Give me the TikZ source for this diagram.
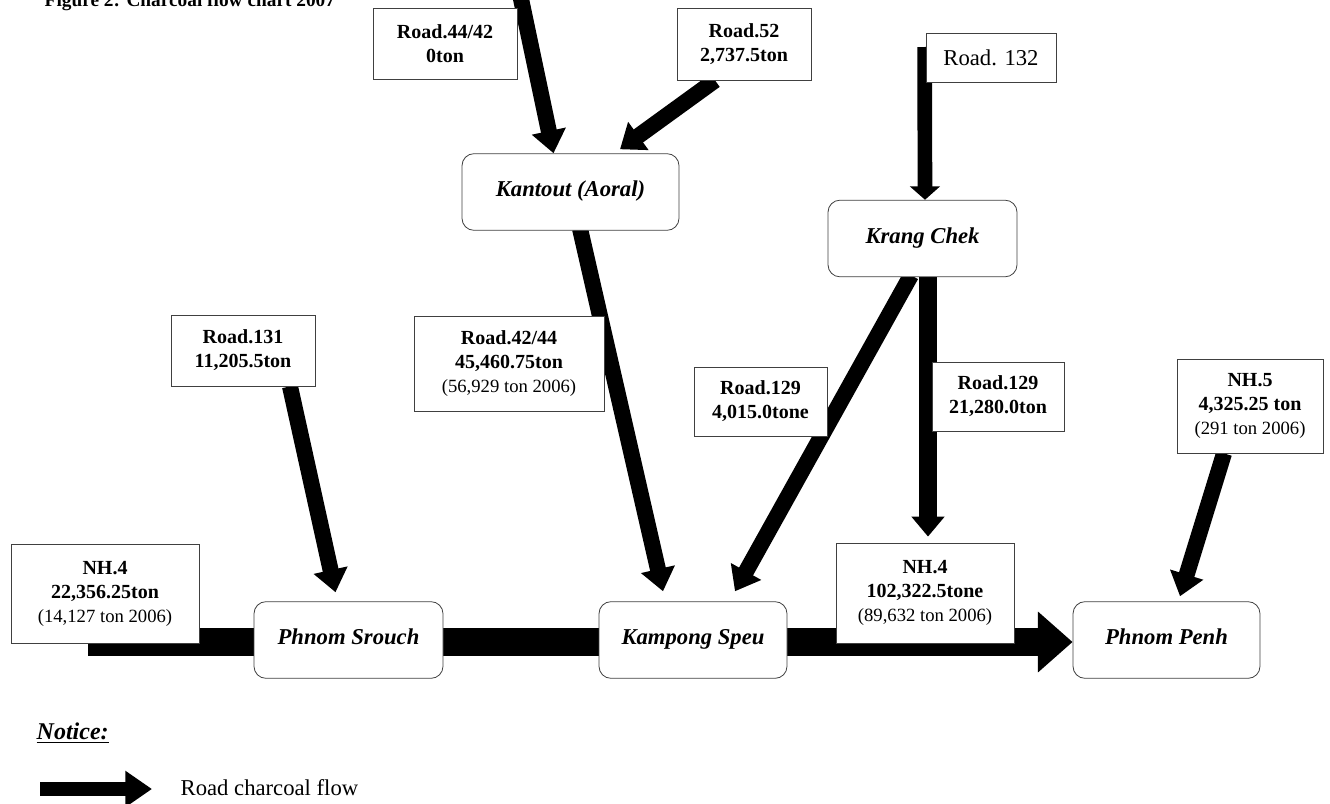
\documentclass[tikz,border=0pt]{standalone}
\usepackage{fontspec}
\setmainfont{Liberation Serif}
\usetikzlibrary{arrows.meta,calc}
\pgfdeclarelayer{back}
\pgfsetlayers{back,main}

\begin{document}
\begin{tikzpicture}[x=0.75pt, y=-0.75pt,
    road/.style={draw=black!75, line width=0.6pt, fill=white, inner sep=1pt, align=center,
      font=\fontsize{15}{18}\selectfont\bfseries},
    town/.style={road, rounded corners=9pt, text height=11pt, text depth=4pt,
      font=\fontsize{17}{20}\selectfont\bfseries\itshape},
    flow/.style={line width=12pt, -{Triangle[length=17pt,width=25pt]}},
    mainflow/.style={line width=21pt, -{Triangle[length=26pt,width=44pt]}}]

  \useasboundingbox (0,0) rectangle (1330,803);

  \node[anchor=base west, font=\fontsize{14.5}{16}\selectfont\bfseries] (title) at (40,7)
    {Figure 2: Charcoal flow chart 2007};

  % towns
  \foreach \n/\t/\x/\y/\w in {kantout/Kantout (Aoral)/570.5/192/162.75,
                              krang/Krang Chek/922.5/238.5/141.75,
                              srouch/Phnom Srouch/348.5/640/141.75,
                              speu/Kampong Speu/693/640/141,
                              penh/Phnom Penh/1166.5/640/140.25}
    \node[town, minimum width=\w pt, minimum height=57.5pt] (\n) at (\x,\y) {\t};

  % road labels
  \node[road, minimum width=108pt, minimum height=53.25pt] (r4442) at (445,43.5) {Road.44/42\\0ton};
  \node[road, minimum width=100.5pt, minimum height=54pt] (r52) at (744,44) {Road.52\\2,737.5ton};
  \node[road, minimum width=97.5pt, minimum height=36.75pt, font=\fontsize{17}{20}\selectfont]
    (r132) at (991,57.5) {Road. 132};
  \node[road, minimum width=108pt, minimum height=53.25pt] (r131) at (243,350.5) {Road.131\\11,205.5ton};
  \node[road, minimum width=142.5pt, minimum height=71.25pt] (r4244) at (509,363.5)
    {Road.42/44\\45,460.75ton\\{\mdseries\fontsize{14}{18}\selectfont (56,929 ton 2006)}};
  \node[road, minimum width=99.75pt, minimum height=51.75pt] (r129a) at (760.5,401.5) {Road.129\\4,015.0tone};
  \node[road, minimum width=99pt, minimum height=51.75pt] (r129b) at (998,396.5) {Road.129\\21,280.0ton};
  \node[road, minimum width=109.5pt, minimum height=70.5pt] (nh5) at (1250,406)
    {NH.5\\4,325.25 ton\\{\mdseries\fontsize{14}{18}\selectfont (291 ton 2006)}};
  \node[road, minimum width=141pt, minimum height=74.25pt] (nh4a) at (105,593.5)
    {NH.4\\22,356.25ton\\{\mdseries\fontsize{14}{18}\selectfont (14,127 ton 2006)}};
  \node[road, minimum width=133.5pt, minimum height=75pt] (nh4b) at (925,593)
    {NH.4\\102,322.5tone\\{\mdseries\fontsize{14}{18}\selectfont (89,632 ton 2006)}};

  \begin{pgfonlayer}{back}
    \coordinate (nhstart) at (88,642);
    \coordinate (topin) at (517,-20);
    \draw[mainflow] (nhstart) -- ($(penh.west)+(0,2)$);
    \draw[flow] (topin) -- ($(kantout.north)+(-17,0)$);
    \draw[flow] ($(r52.south)+(-29,0)$) -- ($(kantout.north)+(49.5,-4)$);
    \draw[flow, line width=11pt, -{Triangle[length=10pt,width=22pt]}]
      ($(r132.west)+(-1,-10.5)$) -- ($(krang.north)+(2.5,0)$);
    \draw[flow] ($(krang.south)+(-11.5,-2)$) -- ($(speu.north)+(42,-10)$);
    \draw[flow, line width=13pt, -{Triangle[length=15pt,width=24pt]}]
      ($(krang.south)+(5.5,-2)$) -- ($(nh4b.north)+(3,-6)$);
    \draw[flow] ($(kantout.south)+(9.5,-2)$) -- ($(speu.north)+(-30,-10)$);
    \draw[flow] ($(r131.south)+(47,0)$) -- ($(srouch.north)+(-13,-9)$);
    \draw[flow] ($(nh5.south)+(-26,0)$) -- ($(penh.north)+(13.5,-5)$);
  \end{pgfonlayer}

  % key
  \node[anchor=west, font=\fontsize{18}{20}\selectfont\bfseries\itshape] (notice) at (32,733) {\underline{Notice:}};
  \coordinate (key0) at (40,789);
  \coordinate (key1) at (152,789);
  \draw[line width=11pt, -{Triangle[length=20pt,width=26pt]}] (key0) -- (key1);
  \node[anchor=west, font=\fontsize{17}{20}\selectfont] (keytext) at (176,788) {Road charcoal flow};
\end{tikzpicture}
\end{document}
